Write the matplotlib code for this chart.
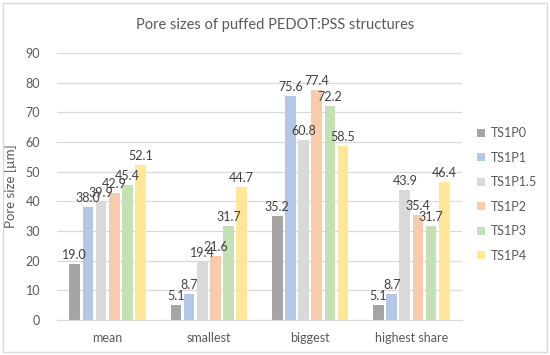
import numpy as np
import matplotlib.pyplot as plt
from matplotlib.patches import Rectangle

plt.rcParams['font.family'] = ['Lato', 'DejaVu Sans']

categories = ['mean', 'smallest', 'biggest', 'highest share']
series = ['TS1P0', 'TS1P1', 'TS1P1.5', 'TS1P2', 'TS1P3', 'TS1P4']
values = {
    'TS1P0': [19.0, 5.1, 35.2, 5.1],
    'TS1P1': [38.0, 8.7, 75.6, 8.7],
    'TS1P1.5': [39.9, 19.4, 60.8, 43.9],
    'TS1P2': [42.9, 21.6, 77.4, 35.4],
    'TS1P3': [45.4, 31.7, 72.2, 31.7],
    'TS1P4': [52.1, 44.7, 58.5, 46.4],
}
colors = ['#A5A5A5', '#B4C7E7', '#D9D9D9', '#F8CBAD', '#C5E0B4', '#FFE699']
text_col = '#595959'

fig = plt.figure(figsize=(5.5, 3.55), dpi=100)
fig.patches.append(Rectangle((0.006, 0.008), 0.988, 0.984, transform=fig.transFigure,
                             fill=False, edgecolor='#D9D9D9', linewidth=1))
ax = fig.add_axes([57 / 550, 1 - 320 / 355, (462 - 57) / 550, (320 - 53) / 355])

x = np.arange(len(categories))
slot = 0.13
width = 0.105
for i, (name, col) in enumerate(zip(series, colors)):
    pos = x + (i - 2.5) * slot
    bars = ax.bar(pos, values[name], width, color=col, label=name, zorder=2)
    for b, v in zip(bars, values[name]):
        ax.text(b.get_x() + b.get_width() / 2, v + 1.0, f'{v:.1f}', ha='center', va='bottom',
                fontsize=9, color='#404040')

ax.set_ylim(0, 90)
ax.set_xlim(-0.5, 3.5)
ax.set_yticks(range(0, 91, 10))
ax.set_xticks(x)
ax.set_xticklabels(categories)
ax.grid(axis='y', color='#D9D9D9', linewidth=0.9, zorder=0)
ax.tick_params(axis='both', length=0, colors=text_col, labelsize=9)
ax.tick_params(axis='x', pad=9)
ax.tick_params(axis='y', pad=12)
for s in ['top', 'right', 'left']:
    ax.spines[s].set_visible(False)
ax.spines['bottom'].set_color('#D9D9D9')
ax.set_ylabel('Pore size [µm]', color=text_col, fontsize=9.5, labelpad=6)

fig.text(0.5, 1 - 25 / 355, 'Pore sizes of puffed PEDOT:PSS structures', ha='center', va='center',
         fontsize=10.5, color=text_col)

leg = ax.legend(loc='center left', bbox_to_anchor=(1.01, 0.47), frameon=False, fontsize=9,
                handlelength=0.6, handleheight=0.6, handletextpad=0.5, labelspacing=1.0)
for t in leg.get_texts():
    t.set_color(text_col)

fig.savefig('out.png', dpi=100)
